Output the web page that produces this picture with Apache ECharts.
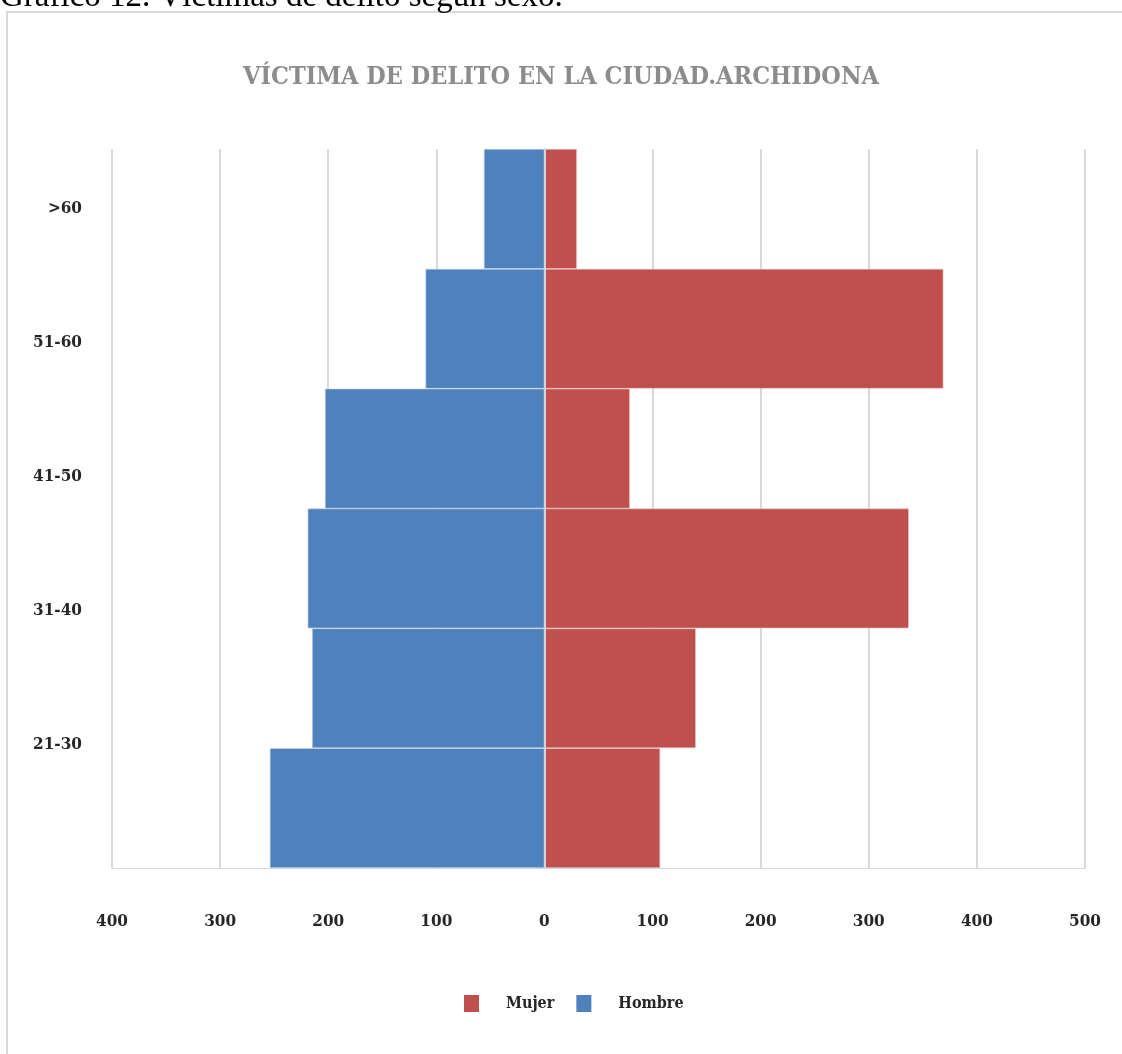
<!DOCTYPE html>
<html>
<head>
<meta charset="utf-8">
<script src="https://cdn.jsdelivr.net/npm/echarts@6/dist/echarts.min.js"></script>
<style>
html,body{margin:0;padding:0;background:#fff;}
#chart{width:1122px;height:1054px;}
</style>
</head>
<body>
<div id="chart"></div>
<script>
// Bar categories (bottom to top)
const barCategories = ['<21', '21-30', '31-40', '41-50', '51-60', '>60'];
// Age labels shown on the axis (bottom to top)
const ageLabels = ['21-30', '31-40', '41-50', '51-60', '>60'];
const hombre = [254, 215, 219, 203, 110, 56];
const mujer = [107, 140, 337, 79, 369, 30];

const serif = "'DejaVu Serif Condensed', 'DejaVu Serif', serif";
const chart = echarts.init(document.getElementById('chart'));
chart.setOption({
  animation: false,
  backgroundColor: '#fff',
  title: {
    text: 'VÍCTIMA DE DELITO EN LA CIUDAD.ARCHIDONA',
    left: 'center',
    top: 60,
    textStyle: { fontFamily: serif, fontWeight: 'bold', fontSize: 25, color: '#8C8C8C' }
  },
  graphic: [
    { type: 'rect', shape: { x: 7, y: 12, width: 1300, height: 1200 },
      style: { fill: 'none', stroke: '#D9D9D9', lineWidth: 2 }, silent: true },
    { type: 'text', x: 0, y: -19,
      style: { text: 'Gráfico 12. Víctimas de delito según sexo.', font: "33px 'Liberation Serif'", fill: '#000' } }
  ],
  legend: {
    data: ['Mujer', 'Hombre'],
    left: 464,
    top: 995,
    padding: 0,
    itemWidth: 15,
    itemHeight: 17,
    itemGap: 22,
    icon: 'rect',
    itemStyle: { borderWidth: 0 },
    textStyle: { fontFamily: serif, fontWeight: 'bold', fontSize: 16, color: '#262626', padding: [0, 0, 0, 22] }
  },
  grid: [
    { left: 112, right: 37, top: 149, bottom: 186 },
    { left: 112, right: 37, top: 141, bottom: 242 }
  ],
  xAxis: [
    {
      type: 'value', gridIndex: 0, min: -400, max: 500, interval: 100,
      axisLine: { show: true, onZero: false, lineStyle: { color: '#D9D9D9', width: 1 } },
      axisTick: { show: false },
      splitLine: { show: true, lineStyle: { color: '#D9D9D9', width: 2 } },
      axisLabel: {
        margin: 45, fontFamily: serif, fontWeight: 'bold', fontSize: 17, color: '#262626',
        formatter: v => String(Math.abs(v))
      }
    },
    { type: 'value', gridIndex: 1, show: false, min: 0, max: 1 }
  ],
  yAxis: [
    {
      type: 'category', gridIndex: 0, data: barCategories, z: 10,
      axisLine: { show: true, onZero: true, lineStyle: { color: '#D0D5DD', width: 2 } },
      axisTick: { show: false },
      axisLabel: { show: false },
      splitLine: { show: false }
    },
    {
      type: 'category', gridIndex: 1, data: ageLabels,
      axisLine: { show: false }, axisTick: { show: false }, splitLine: { show: false },
      axisLabel: { margin: 30, fontFamily: serif, fontWeight: 'bold', fontSize: 17, color: '#262626' }
    }
  ],
  series: [
    {
      name: 'Mujer', type: 'bar', xAxisIndex: 0, yAxisIndex: 0,
      data: mujer, barCategoryGap: '0%', barGap: '-100%',
      itemStyle: { color: '#C0504D', borderColor: '#E6C9C8', borderWidth: 0.6 }
    },
    {
      name: 'Hombre', type: 'bar', xAxisIndex: 0, yAxisIndex: 0,
      data: hombre.map(v => -v), barCategoryGap: '0%', barGap: '-100%',
      itemStyle: { color: '#4F81BD', borderColor: '#C9D7EA', borderWidth: 0.6 }
    }
  ]
});
</script>
</body>
</html>
